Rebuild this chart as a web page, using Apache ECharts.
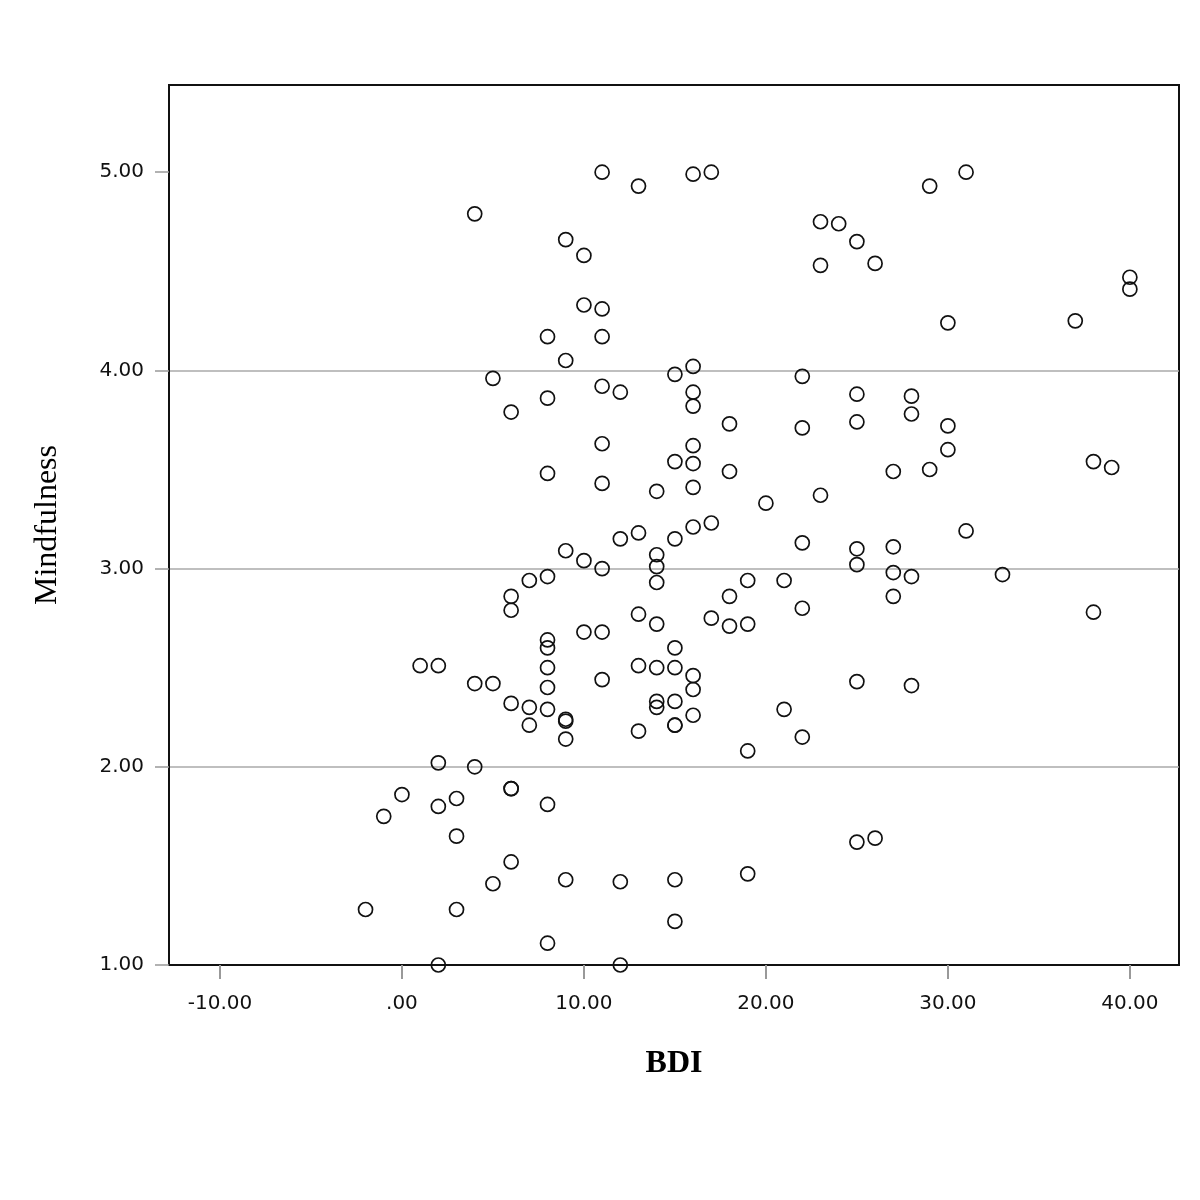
<!DOCTYPE html>
<html>
<head>
<meta charset="utf-8">
<script src="https://cdn.jsdelivr.net/npm/echarts@6/dist/echarts.min.js"></script>
<style>html,body{margin:0;padding:0;background:#fff}#c{width:1200px;height:1200px}</style>
</head>
<body>
<div id="c"></div>
<script>
const bdi = [11,13,16,17,29,31,4,23,24,25,23,26,9,10,40,40,10,11,30,37,8,11,9,16,5,15,22,11,12,16,25,28,8,6,16,28,18,25,22,30,11,16,30,15,16,8,18,27,29,38,39,11,14,16,23,20,17,16,13,12,15,31,22,9,14,25,27,10,14,11,25,7,8,14,19,21,27,28,33,6,18,27,6,22,38,13,17,14,18,19,10,11,8,8,15,8,1,2,13,14,15,16,4,5,11,8,25,28,16,6,14,15,14,7,8,21,9,9,16,7,15,15,13,22,9,19,2,4,6,6,0,3,2,8,-1,3,25,26,6,5,9,12,15,19,-2,3,15,8,2,12];
const mindfulness = [5.00,4.93,4.99,5.00,4.93,5.00,4.79,4.75,4.74,4.65,4.53,4.54,4.66,4.58,4.47,4.41,4.33,4.31,4.24,4.25,4.17,4.17,4.05,4.02,3.96,3.98,3.97,3.92,3.89,3.89,3.88,3.87,3.86,3.79,3.82,3.78,3.73,3.74,3.71,3.72,3.63,3.62,3.60,3.54,3.53,3.48,3.49,3.49,3.50,3.54,3.51,3.43,3.39,3.41,3.37,3.33,3.23,3.21,3.18,3.15,3.15,3.19,3.13,3.09,3.07,3.10,3.11,3.04,3.01,3.00,3.02,2.94,2.96,2.93,2.94,2.94,2.98,2.96,2.97,2.86,2.86,2.86,2.79,2.80,2.78,2.77,2.75,2.72,2.71,2.72,2.68,2.68,2.64,2.60,2.60,2.50,2.51,2.51,2.51,2.50,2.50,2.46,2.42,2.42,2.44,2.40,2.43,2.41,2.39,2.32,2.33,2.33,2.30,2.30,2.29,2.29,2.24,2.23,2.26,2.21,2.21,2.21,2.18,2.15,2.14,2.08,2.02,2.00,1.89,1.89,1.86,1.84,1.80,1.81,1.75,1.65,1.62,1.64,1.52,1.41,1.43,1.42,1.43,1.46,1.28,1.28,1.22,1.11,1.00,1.00];
const xTicks = [-10,0,10,20,30,40];
const yTicks = [1,2,3,4,5];
const xLabel = 'BDI';
const yLabel = 'Mindfulness';

function fmt(v){
  let s = Number(v).toFixed(2);
  if (s === '0.00') s = '.00';
  return s;
}

const chart = echarts.init(document.getElementById('c'), null, {renderer:'canvas'});
chart.setOption({
  animation:false,
  backgroundColor:'#ffffff',
  grid:{left:169,right:21,top:85,bottom:235,show:true,borderColor:'#111',borderWidth:2,backgroundColor:'transparent'},
  xAxis:{
    type:'value', min:-12.8, max:42.7,
    name:xLabel, nameLocation:'middle', nameGap:83,
    nameTextStyle:{fontFamily:'Liberation Serif',fontWeight:'bold',fontSize:32,color:'#000'},
    axisLine:{show:true,onZero:false,lineStyle:{color:'#111',width:2}},
    axisTick:{show:true,length:14,customValues:xTicks,lineStyle:{color:'#999',width:2}},
    axisLabel:{customValues:xTicks,margin:29,formatter:fmt,fontFamily:'DejaVu Sans',fontSize:20,color:'#111'},
    splitLine:{show:false}
  },
  yAxis:{
    type:'value', min:1, max:5.44, interval:1,
    name:yLabel, nameLocation:'middle', nameGap:105, nameRotate:90,
    nameTextStyle:{fontFamily:'Liberation Serif',fontSize:32,color:'#000'},
    axisLine:{show:true,onZero:false,lineStyle:{color:'#111',width:2}},
    axisTick:{show:true,length:14,customValues:yTicks,lineStyle:{color:'#999',width:1.5}},
    axisLabel:{customValues:yTicks,margin:25,formatter:fmt,fontFamily:'DejaVu Sans',fontSize:20,color:'#111'},
    splitLine:{show:true,showMinLine:false,showMaxLine:false,lineStyle:{color:'#aaa',width:1.5}}
  },
  series:[{
    type:'scatter',
    data:bdi.map((x,i)=>[x,mindfulness[i]]),
    symbol:'circle', symbolSize:14,
    itemStyle:{color:'transparent',borderColor:'#111',borderWidth:1.7,opacity:1},
    clip:true
  }]
});
</script>
</body>
</html>
